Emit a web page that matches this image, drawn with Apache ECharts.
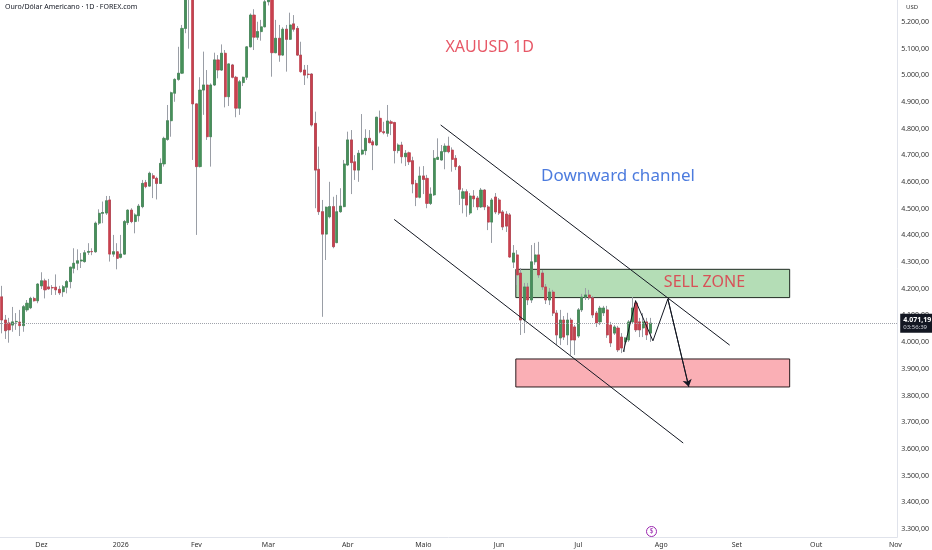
<!DOCTYPE html>
<html>
<head>
<meta charset="utf-8">
<title>XAUUSD 1D</title>
<script src="https://cdn.jsdelivr.net/npm/echarts@6/dist/echarts.min.js"></script>
<style>
  html, body { margin: 0; padding: 0; background: #fff; }
  #chart { width: 932px; height: 550px; }
</style>
</head>
<body>
<div id="chart"></div>
<script>
// dias de negociação (seg-sex), sem os feriados abaixo
const firstDay = '2025-11-14';
const lastDay = '2026-11-02';
const holidays = ['2025-12-25', '2026-01-01', '2026-04-03'];
const monthLabels = ['2026', 'Fev', 'Mar', 'Abr', 'Maio', 'Jun', 'Jul', 'Ago', 'Set', 'Out', 'Nov', 'Dez'];
const priceTicks = [3300, 3400, 3500, 3600, 3700, 3800, 3900, 4000, 4100, 4200, 4300, 4400, 4500, 4600, 4700, 4800, 4900, 5000, 5100, 5200];

// [abertura, fechamento, mínima, máxima]
const ohlc = [
    [4170, 4083, 4033, 4211], [4083, 4043, 4012, 4102], [4072, 4046, 3998, 4091], [4064, 4076, 4039, 4132],
    [4076, 4078, 4046, 4109], [4075, 4062, 4023, 4121], [4062, 4133, 4039, 4139], [4121, 4146, 4114, 4158],
    [4129, 4164, 4124, 4170], [4164, 4155, 4152, 4170], [4155, 4218, 4146, 4221], [4211, 4230, 4199, 4262],
    [4230, 4196, 4164, 4238], [4207, 4200, 4196, 4237], [4205, 4203, 4177, 4214], [4206, 4196, 4177, 4254],
    [4198, 4185, 4177, 4211], [4189, 4208, 4170, 4214], [4206, 4227, 4183, 4233], [4227, 4281, 4202, 4283],
    [4277, 4296, 4258, 4352], [4296, 4305, 4270, 4348], [4304, 4308, 4278, 4334], [4302, 4335, 4298, 4345],
    [4337, 4340, 4327, 4371], [4340, 4339, 4326, 4352], [4339, 4446, 4335, 4452], [4446, 4483, 4439, 4498],
    [4483, 4486, 4446, 4527], [4484, 4530, 4477, 4548], [4533, 4330, 4302, 4548], [4330, 4339, 4320, 4402],
    [4339, 4314, 4273, 4371], [4318, 4330, 4314, 4402], [4330, 4452, 4327, 4458], [4448, 4495, 4439, 4498],
    [4495, 4452, 4446, 4502], [4452, 4477, 4408, 4483], [4474, 4510, 4452, 4518], [4508, 4595, 4502, 4608],
    [4598, 4583, 4577, 4608], [4585, 4633, 4583, 4639], [4624, 4614, 4540, 4633], [4614, 4595, 4535, 4620],
    [4595, 4670, 4593, 4689], [4668, 4764, 4658, 4770], [4760, 4830, 4755, 4889], [4830, 4935, 4770, 4939],
    [4933, 4985, 4901, 4989], [4985, 5008, 4980, 5107], [5008, 5176, 5005, 5189], [5176, 5330, 5158, 5350],
    [5330, 5390, 5100, 5595], [5390, 4893, 4683, 5450], [4893, 4658, 4402, 4895], [4658, 4945, 4655, 4993],
    [4945, 4964, 4852, 5089], [4964, 4770, 4758, 5020], [4770, 4964, 4658, 4970], [4964, 5058, 4960, 5085],
    [5058, 5020, 4989, 5076], [5020, 5083, 5017, 5116], [5083, 4920, 4880, 5095], [4920, 5043, 4885, 5045],
    [5039, 4993, 4989, 5043], [4993, 4877, 4843, 4998], [4877, 4976, 4852, 4983], [4973, 4993, 4960, 4995],
    [4993, 5107, 4983, 5110], [5107, 5226, 5105, 5232], [5226, 5143, 5095, 5248], [5143, 5164, 5133, 5201],
    [5164, 5182, 5130, 5208], [5182, 5276, 5180, 5295], [5276, 5300, 5262, 5345], [5300, 5085, 4995, 5320],
    [5085, 5139, 5083, 5208], [5139, 5076, 5051, 5189], [5076, 5173, 5073, 5180], [5173, 5135, 5014, 5189],
    [5135, 5189, 5133, 5235], [5193, 5173, 5164, 5226], [5176, 5076, 5073, 5185], [5076, 5014, 5010, 5126],
    [5020, 5001, 4964, 5039], [5005, 5003, 4989, 5039], [5005, 4814, 4808, 5008], [4820, 4645, 4502, 4864],
    [4648, 4489, 4477, 4733], [4489, 4405, 4095, 4533], [4405, 4506, 4308, 4508], [4470, 4508, 4464, 4601],
    [4508, 4358, 4352, 4545], [4373, 4489, 4371, 4552], [4489, 4510, 4485, 4577], [4508, 4668, 4506, 4683],
    [4664, 4758, 4660, 4789], [4758, 4673, 4555, 4795], [4676, 4645, 4608, 4701], [4645, 4708, 4601, 4720],
    [4705, 4720, 4701, 4855], [4718, 4764, 4701, 4798], [4764, 4748, 4745, 4795], [4751, 4739, 4645, 4758],
    [4739, 4843, 4735, 4845], [4839, 4789, 4783, 4868], [4789, 4785, 4779, 4826], [4783, 4829, 4770, 4889],
    [4826, 4820, 4776, 4833], [4823, 4718, 4670, 4826], [4718, 4739, 4708, 4745], [4739, 4695, 4670, 4751],
    [4695, 4708, 4660, 4720], [4710, 4676, 4664, 4714], [4680, 4593, 4558, 4695], [4595, 4543, 4510, 4608],
    [4543, 4623, 4539, 4658], [4623, 4610, 4555, 4660], [4614, 4520, 4502, 4627], [4520, 4555, 4514, 4580],
    [4552, 4689, 4548, 4720], [4685, 4693, 4683, 4764], [4683, 4714, 4680, 4739], [4714, 4735, 4648, 4745],
    [4735, 4714, 4708, 4770], [4720, 4685, 4639, 4730], [4689, 4658, 4645, 4701], [4658, 4573, 4514, 4664],
    [4539, 4564, 4483, 4577], [4564, 4514, 4470, 4573], [4484, 4548, 4477, 4559], [4548, 4537, 4506, 4570],
    [4540, 4507, 4495, 4548], [4507, 4570, 4503, 4578], [4570, 4507, 4495, 4574], [4507, 4450, 4420, 4514],
    [4450, 4533, 4372, 4540], [4544, 4488, 4480, 4559], [4533, 4484, 4477, 4540], [4488, 4432, 4420, 4495],
    [4480, 4435, 4413, 4491], [4477, 4319, 4316, 4484], [4300, 4334, 4278, 4364], [4327, 4252, 4214, 4345],
    [4259, 4083, 4027, 4278], [4083, 4207, 4034, 4222], [4207, 4158, 4139, 4222], [4158, 4301, 4147, 4364],
    [4301, 4327, 4290, 4372], [4327, 4252, 4241, 4376], [4259, 4207, 4196, 4270], [4207, 4158, 4143, 4218],
    [4158, 4188, 4139, 4203], [4188, 4109, 4098, 4196], [4109, 4027, 3989, 4120], [4016, 4083, 3989, 4121],
    [4083, 4019, 4008, 4098], [4027, 4083, 3989, 4110], [4083, 4008, 3952, 4091], [4057, 4008, 3952, 4064],
    [4023, 4121, 4016, 4128], [4121, 4169, 4113, 4181], [4169, 4177, 4158, 4203], [4177, 4166, 4158, 4196],
    [4166, 4102, 4091, 4173], [4109, 4072, 4057, 4117], [4076, 4128, 4064, 4136], [4110, 4128, 4098, 4136],
    [4121, 4027, 4016, 4136], [4064, 3997, 3982, 4076], [4034, 4057, 4027, 4064], [4053, 3971, 3963, 4061],
    [4019, 3978, 3959, 4034], [4001, 4016, 3963, 4019], [4008, 4076, 4001, 4083], [4076, 4128, 4068, 4169],
    [4147, 4046, 4038, 4158], [4076, 4046, 4019, 4091], [4053, 4076, 4019, 4109], [4076, 4027, 4008, 4091],
    [4034, 4071.19, 4001, 4091]
];
const countdown = '03:56:39';

// desenhos (x = nº da barra, y = preço)
const upperChannel = [[121.8, 4814], [202.0, 3989]];
const lowerChannel = [[108.9, 4460], [189.1, 3622]];
const projection = [[172.5, 3964], [175.9, 4155], [180.7, 4005], [184.85, 4162], [190.65, 3833]];
const sellZone = [[142.65, 4273], [218.65, 4167]];
const buyZone = [[142.65, 3937], [218.65, 3832]];
const notes = [
    { name: 'XAUUSD 1D', value: [135.4, 5106], color: '#e12d40', size: 16 },
    { name: 'Downward channel', value: [171.0, 4623], color: '#1f5ad6', size: 17 },
    { name: 'SELL ZONE', value: [195.0, 4222], color: '#e12d40', size: 16 }
];

// monta o eixo de datas
const categories = [];
for (let d = new Date(firstDay + 'T00:00:00Z'); d <= new Date(lastDay + 'T00:00:00Z'); d.setUTCDate(d.getUTCDate() + 1)) {
    const s = d.toISOString().slice(0, 10);
    const wd = d.getUTCDay();
    if (wd === 0 || wd === 6 || holidays.includes(s)) continue;
    categories.push(s);
}

const fmtPrice = v => {
    const [i, f] = v.toFixed(2).split('.');
    return i.replace(/\B(?=(\d{3})+(?!\d))/g, '.') + ',' + f;
};

const lastClose = ohlc[ohlc.length - 1][1];
const bodies = ohlc.map(r => [r[0], r[1], Math.min(r[0], r[1]), Math.max(r[0], r[1])]);

const chart = echarts.init(document.getElementById('chart'));
const FONT = 'Noto Sans';
const INK = '#131722';

chart.setOption({
    animation: false,
    backgroundColor: '#ffffff',
    textStyle: { fontFamily: FONT },
    grid: { left: 0, right: 31, top: 0, bottom: 13 },
    xAxis: [
        {
            type: 'category',
            data: categories,
            boundaryGap: true,
            axisLine: { show: true, onZero: false, lineStyle: { color: '#e0e3eb' } },
            axisTick: { show: false },
            splitLine: { show: false },
            axisLabel: {
                fontSize: 7,
                color: '#333',
                margin: 4,
                interval: (idx, val) => idx > 0 && categories[idx - 1].slice(5, 7) !== val.slice(5, 7),
                formatter: val => monthLabels[+val.slice(5, 7) - 1]
            }
        },
        {
            type: 'value',
            min: -0.5,
            max: categories.length - 0.5,
            show: false,
            axisLine: { onZero: false }
        }
    ],
    yAxis: {
        type: 'value',
        position: 'right',
        min: 3269.7,
        max: 5282.5,
        scale: true,
        axisLine: { show: true, onZero: false, lineStyle: { color: '#e0e3eb' } },
        axisTick: { show: false },
        splitLine: { show: false },
        axisLabel: {
            customValues: priceTicks,
            fontSize: 7,
            color: '#333',
            margin: 4,
            formatter: v => fmtPrice(v)
        }
    },
    series: [
        {
            name: 'pavio',
            type: 'candlestick',
            data: ohlc,
            barWidth: 2,
            clip: true,
            itemStyle: {
                color: '#9a9ea6', color0: '#9a9ea6',
                borderColor: '#9a9ea6', borderColor0: '#9a9ea6',
                borderWidth: 1
            }
        },
        {
            name: 'XAUUSD',
            type: 'candlestick',
            data: bodies,
            barWidth: 2.6,
            clip: true,
            z: 3,
            itemStyle: {
                color: '#47905a', color0: '#c9404e',
                borderColor: '#3b844e', borderColor0: '#bd3745',
                borderWidth: 0.6
            },
            markLine: {
                silent: true,
                symbol: 'none',
                lineStyle: { type: 'dotted', color: '#a0a3ab', width: 1 },
                data: [{ yAxis: lastClose }],
                label: {
                    show: true,
                    position: 'end',
                    distance: 3,
                    backgroundColor: INK,
                    padding: [2, 3],
                    formatter: '{a|' + fmtPrice(lastClose) + '}\n{b|' + countdown + '}',
                    rich: {
                        a: { color: '#fff', fontSize: 7, fontWeight: 'bold', lineHeight: 8 },
                        b: { color: '#d1d4dc', fontSize: 6, lineHeight: 7 }
                    }
                }
            }
        },
        {
            name: 'canal superior',
            type: 'line',
            xAxisIndex: 1,
            data: upperChannel,
            symbol: 'none',
            z: 5,
            lineStyle: { color: INK, width: 1 },
            markArea: {
                silent: true,
                data: [
                    [
                        { coord: sellZone[0], itemStyle: { color: 'rgba(76,175,80,0.42)', borderColor: '#1f2a22', borderWidth: 1 } },
                        { coord: sellZone[1] }
                    ],
                    [
                        { coord: buyZone[0], itemStyle: { color: 'rgba(242,54,69,0.4)', borderColor: '#2a1c1e', borderWidth: 1 } },
                        { coord: buyZone[1] }
                    ]
                ]
            }
        },
        {
            name: 'canal inferior',
            type: 'line',
            xAxisIndex: 1,
            data: lowerChannel,
            symbol: 'none',
            z: 5,
            lineStyle: { color: INK, width: 1 }
        },
        {
            name: 'projeção',
            type: 'line',
            xAxisIndex: 1,
            data: projection,
            symbol: 'none',
            z: 6,
            lineStyle: { color: INK, width: 1 }
        },
        {
            name: 'seta',
            type: 'lines',
            coordinateSystem: 'cartesian2d',
            xAxisIndex: 1,
            yAxisIndex: 0,
            z: 6,
            symbol: ['none', 'arrow'],
            symbolSize: 7,
            lineStyle: { color: INK, width: 1, opacity: 1 },
            data: [{ coords: projection.slice(-2) }]
        },
        {
            name: 'textos',
            type: 'scatter',
            xAxisIndex: 1,
            symbolSize: 0,
            z: 7,
            data: notes.map(n => ({
                name: n.name,
                value: n.value,
                label: {
                    show: true,
                    position: 'inside',
                    formatter: n.name,
                    color: n.color,
                    fontSize: n.size,
                    fontFamily: FONT
                }
            }))
        }
    ],
    graphic: [
        {
            type: 'text', left: 5, top: 3,
            style: { text: 'Ouro/Dólar Americano · 1D · FOREX.com', fontSize: 7, fill: INK, fontFamily: FONT }
        },
        {
            type: 'text', left: 906, top: 4,
            style: { text: 'USD', fontSize: 6, fill: '#333', fontFamily: FONT }
        },
        {
            type: 'group', left: 646, top: 526,
            children: [
                { type: 'circle', shape: { cx: 5.5, cy: 5.5, r: 5 }, style: { fill: '#fff', stroke: '#9c27b0', lineWidth: 1 } },
                { type: 'text', x: 3.5, y: 1.5, style: { text: '$', fontSize: 7, fill: '#9c27b0', fontFamily: FONT } }
            ]
        }
    ]
});

window.addEventListener('resize', function () {
    chart.resize();
});
</script>
</body>
</html>
